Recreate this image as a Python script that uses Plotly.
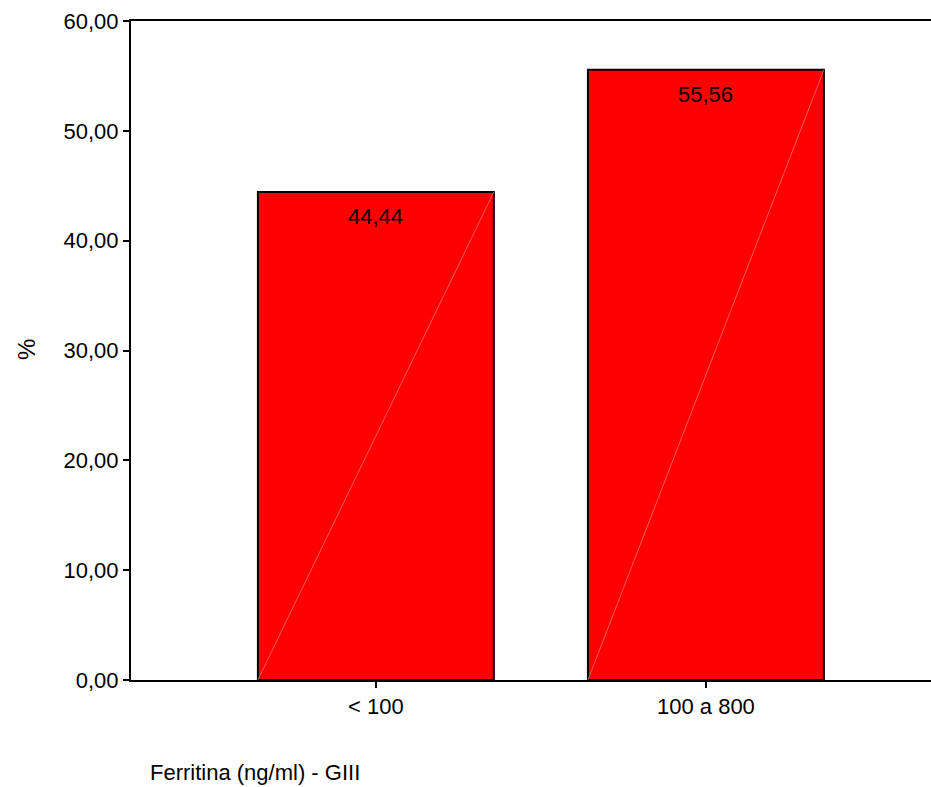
import plotly.graph_objects as go

categories = ["< 100", "100 a 800"]
values = [44.44, 55.56]
y_ticks = [0, 10, 20, 30, 40, 50, 60]

bar_width = 0.715
font = "Liberation Sans, Arial, sans-serif"
FS = 22

fig = go.Figure()
fig.add_trace(go.Bar(
    x=list(range(len(categories))),
    y=values,
    width=bar_width,
    marker=dict(color="#ff0000", line=dict(color="black", width=2)),
    showlegend=False,
    hoverinfo="skip",
))

for i, v in enumerate(values):
    # faint diagonal inside each bar
    fig.add_shape(type="line", xref="x", yref="y",
                  x0=i - bar_width / 2, y0=0, x1=i + bar_width / 2, y1=v,
                  line=dict(color="rgba(255,150,150,0.6)", width=1))
    # value label
    fig.add_annotation(x=i, y=v, xref="x", yref="y", text=f"{v:.2f}".replace(".", ","),
                       showarrow=False, yanchor="middle", yshift=-25,
                       font=dict(size=FS, family=font, color="black"))

fig.update_layout(
    width=931, height=787,
    margin=dict(l=131, r=0, t=21, b=107),
    plot_bgcolor="white", paper_bgcolor="white",
    separators=",.",
    font=dict(family=font, size=FS, color="black"),
    xaxis=dict(
        range=[-0.742, 1.682],
        tickmode="array", tickvals=list(range(len(categories))), ticktext=categories,
        showline=True, linecolor="black", linewidth=2, mirror=True,
        ticks="outside", ticklen=6, tickwidth=2, tickcolor="black",
        showgrid=False, zeroline=False,
        tickfont=dict(size=FS),
    ),
    yaxis=dict(
        range=[0, 60],
        tickvals=y_ticks, tickformat=".2f",
        showline=True, linecolor="black", linewidth=2,
        ticks="outside", ticklen=6, tickwidth=2, tickcolor="black",
        showgrid=False, zeroline=False,
        tickfont=dict(size=FS),
    ),
)

fig.add_annotation(text="%", xref="paper", yref="paper", textangle=-90,
                   x=(26 - 131) / 800, y=(680 - 350) / 659, xanchor="center", yanchor="middle",
                   showarrow=False, font=dict(size=24, family=font))

fig.add_annotation(text="Ferritina (ng/ml) - GIII", xref="paper", yref="paper",
                   x=(148 - 131) / 800, y=-(772 - 680) / 659, xanchor="left", yanchor="middle",
                   showarrow=False, font=dict(size=FS, family=font))

fig.write_html("out.html", post_script="document.body.style.margin='0';",
               config={"displayModeBar": False})
